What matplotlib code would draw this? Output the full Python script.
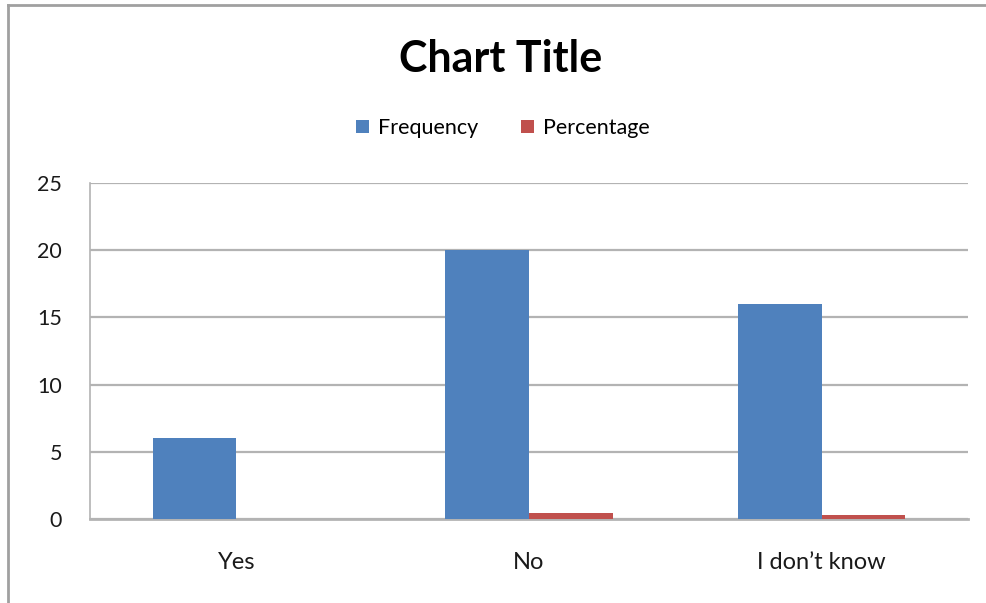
import matplotlib
matplotlib.use('Agg')
import matplotlib.pyplot as plt
import numpy as np
from matplotlib.lines import Line2D

BLUE = '#4F81BD'
RED = '#C0504D'
GRID = '#B3B3B3'
TEXT = '#1A1A1A'

categories = ['Yes', 'No', 'I don\u2019t know']
frequency = [6, 20, 16]
percentage = [0, 0.45, 0.3]
y_ticks = [0, 5, 10, 15, 20, 25]

plt.rcParams['font.family'] = ['Lato', 'DejaVu Sans']

fig = plt.figure(figsize=(9.86, 6.03), dpi=100)
fig.patch.set_facecolor('white')
ax = fig.add_axes([90 / 986, 1 - 519 / 603, 878 / 986, 336 / 603])

x = np.arange(len(categories))
w = 1 / 3.5
ax.bar(x - w / 2, frequency, w, color=BLUE, label='Frequency', zorder=3)
ax.bar(x + w / 2, percentage, w, color=RED, label='Percentage', zorder=3)

ax.set_xlim(-0.5, len(categories) - 0.5)
ax.set_ylim(0, 25)
ax.set_yticks(y_ticks)
ax.set_xticks(x)
ax.set_xticklabels(categories)
ax.yaxis.grid(True, color=GRID, linewidth=1.6, zorder=0)
ax.set_axisbelow(True)

for s in ['top', 'right']:
    ax.spines[s].set_visible(False)
ax.spines['left'].set_color(GRID)
ax.spines['left'].set_linewidth(1.2)
ax.spines['bottom'].set_color(GRID)
ax.spines['bottom'].set_linewidth(2)

ax.tick_params(axis='y', length=0, pad=20, labelsize=15.5, labelcolor=TEXT)
ax.tick_params(axis='x', length=0, pad=24, labelsize=17, labelcolor=TEXT)

fig.text(0.508, 1 - 59 / 603, 'Chart Title', ha='center', va='center',
         fontsize=31, fontweight='bold', color='black')

fig.legend(loc='center', bbox_to_anchor=(0.51, 1 - 128 / 603), ncol=2,
           frameon=False, fontsize=15.5, handlelength=0.6, handleheight=0.6,
           handletextpad=0.4, columnspacing=2.0)

# outer chart border (only top and left visible)
fig.add_artist(Line2D([8 / 986, 1], [1 - 5 / 603, 1 - 5 / 603], color='#A0A0A0',
                      linewidth=2, transform=fig.transFigure))
fig.add_artist(Line2D([8 / 986, 8 / 986], [0, 1 - 5 / 603], color='#A0A0A0',
                      linewidth=2, transform=fig.transFigure))

fig.savefig('out.png', dpi=100)
